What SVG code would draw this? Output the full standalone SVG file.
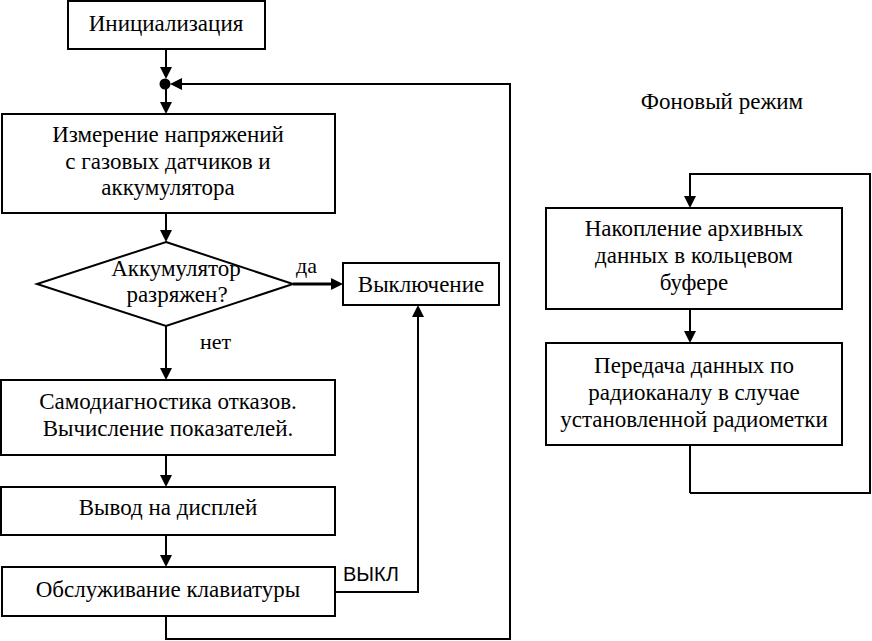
<svg xmlns="http://www.w3.org/2000/svg" width="872" height="641" viewBox="0 0 872 641">
<rect width="872" height="641" fill="#fff"/>
<g id="connectors">
<g fill="none" stroke="#000" stroke-width="2">
<line x1="166" y1="49" x2="166" y2="70"/>
<line x1="166" y1="84" x2="166" y2="104"/>
<polyline points="166,616 166,639 510,639 510,84 178,84"/>
<line x1="166" y1="213" x2="166" y2="232"/>
<line x1="293" y1="284" x2="333" y2="284" stroke-width="3"/>
<line x1="166" y1="326" x2="166" y2="370"/>
<line x1="166" y1="455" x2="166" y2="477"/>
<line x1="166" y1="535" x2="166" y2="557"/>
<polyline points="335,592 418,592 418,315"/>
<line x1="690" y1="445" x2="690" y2="493"/>
<polyline points="690,493 870,493 870,174 690,174 690,198"/>
<line x1="690" y1="309" x2="690" y2="333"/>
</g>
<g fill="#000">
<circle cx="165" cy="84" r="5.5"/>
<polygon points="160,67 172,67 166,79"/>
<polygon points="160,102 172,102 166,114"/>
<polygon points="182,78 182,90 170,84"/>
<polygon points="160,230 172,230 166,242"/>
<polygon points="331,278 331,290 343,284"/>
<polygon points="160,368 172,368 166,380"/>
<polygon points="160,475 172,475 166,487"/>
<polygon points="160,555 172,555 166,567"/>
<polygon points="412,317 424,317 418,305"/>
<polygon points="684,196 696,196 690,208"/>
<polygon points="684,331 696,331 690,343"/>
</g>
<text x="296" y="273" font-family="Liberation Serif" font-size="22">да</text>
<text x="200" y="349" font-family="Liberation Serif" font-size="22">нет</text>
<text x="343" y="581" font-family="Liberation Sans" font-size="20">ВЫКЛ</text>
</g>
<g id="init">
<rect fill="#fff" stroke="#000" stroke-width="2" x="68" y="1" width="197" height="48"/>
<text x="166" y="31" font-family="Liberation Serif" font-size="23" text-anchor="middle">Инициализация</text>
</g>
<g id="measure">
<rect fill="#fff" stroke="#000" stroke-width="2" x="2" y="114" width="333" height="99"/>
<text x="168" y="142" font-family="Liberation Serif" font-size="23" text-anchor="middle">Измерение напряжений</text>
<text x="168" y="169" font-family="Liberation Serif" font-size="23" text-anchor="middle">с газовых датчиков и</text>
<text x="168" y="195" font-family="Liberation Serif" font-size="23" text-anchor="middle">аккумулятора</text>
</g>
<g id="decision">
<polygon fill="#fff" stroke="#000" stroke-width="2" points="166,242 293,284 166,326 37,284"/>
<text x="176" y="276" font-family="Liberation Serif" font-size="23" text-anchor="middle">Аккумулятор</text>
<text x="177" y="302" font-family="Liberation Serif" font-size="23" text-anchor="middle">разряжен?</text>
</g>
<g id="off">
<rect fill="#fff" stroke="#000" stroke-width="2" x="343" y="263" width="156" height="42"/>
<text x="421" y="292" font-family="Liberation Serif" font-size="23" text-anchor="middle">Выключение</text>
</g>
<g id="diag">
<rect fill="#fff" stroke="#000" stroke-width="2" x="1" y="380" width="334" height="75"/>
<text x="168" y="409" font-family="Liberation Serif" font-size="23" text-anchor="middle">Самодиагностика отказов.</text>
<text x="168" y="436" font-family="Liberation Serif" font-size="23" text-anchor="middle">Вычисление показателей.</text>
</g>
<g id="display">
<rect fill="#fff" stroke="#000" stroke-width="2" x="1" y="487" width="334" height="48"/>
<text x="168" y="515" font-family="Liberation Serif" font-size="23" text-anchor="middle">Вывод на дисплей</text>
</g>
<g id="keyboard">
<rect fill="#fff" stroke="#000" stroke-width="2" x="2" y="567" width="333" height="49"/>
<text x="168" y="597" font-family="Liberation Serif" font-size="23" text-anchor="middle">Обслуживание клавиатуры</text>
</g>
<g id="bg-title">
<text x="722" y="109" font-family="Liberation Serif" font-size="23" text-anchor="middle">Фоновый режим</text>
</g>
<g id="accum">
<rect fill="#fff" stroke="#000" stroke-width="2" x="546" y="208" width="296" height="101"/>
<text x="694" y="236" font-family="Liberation Serif" font-size="23" text-anchor="middle">Накопление архивных</text>
<text x="694" y="263" font-family="Liberation Serif" font-size="23" text-anchor="middle">данных в кольцевом</text>
<text x="694" y="290" font-family="Liberation Serif" font-size="23" text-anchor="middle">буфере</text>
</g>
<g id="transmit">
<rect fill="#fff" stroke="#000" stroke-width="2" x="546" y="343" width="296" height="102"/>
<text x="694" y="373" font-family="Liberation Serif" font-size="23" text-anchor="middle">Передача данных по</text>
<text x="694" y="400" font-family="Liberation Serif" font-size="23" text-anchor="middle">радиоканалу в случае</text>
<text x="694" y="427" font-family="Liberation Serif" font-size="23" text-anchor="middle">установленной радиометки</text>
</g>
</svg>
